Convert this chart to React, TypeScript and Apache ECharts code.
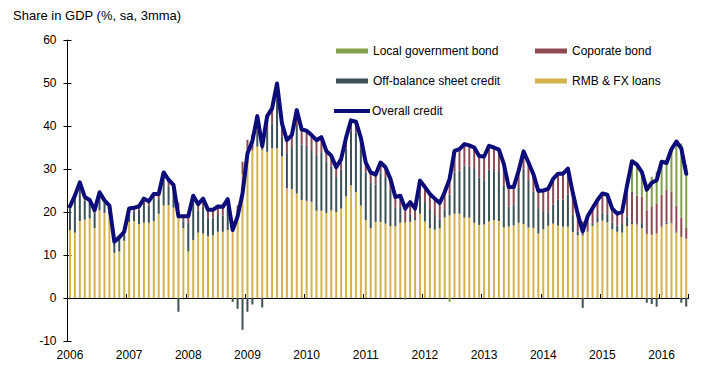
import React, { useEffect, useRef } from "react";
import * as echarts from "echarts";

const years = ["2006", "2007", "2008", "2009", "2010", "2011", "2012", "2013", "2014", "2015", "2016"];
const months = ["01", "02", "03", "04", "05", "06", "07", "08", "09", "10", "11", "12"];
const categories: string[] = [];
years.forEach((y) => months.forEach((m) => categories.push(`${y}-${m}`)));
categories.splice(126);

// Overall credit (line), % of GDP
const overallCredit = [
  21.3, 23.8, 26.9, 23.5, 22.8, 20.4, 24.6, 22.7, 21.5, 13.1, 14.1, 15.4,
  20.8, 21.0, 21.3, 23.1, 22.5, 24.2, 24.2, 29.2, 27.5, 26.3, 19.0, 19.0,
  19.0, 23.8, 21.8, 23.1, 20.5, 20.5, 21.3, 21.2, 23.0, 15.8, 19.0, 24.3,
  33.6, 36.5, 42.3, 35.3, 42.3, 44.1, 49.9, 40.6, 36.7, 37.9, 43.7, 39.2,
  38.9, 37.9, 36.7, 37.4, 34.2, 33.1, 30.4, 32.3, 37.3, 41.3, 41.0, 37.3,
  31.5, 29.2, 28.7, 31.5, 30.4, 27.7, 23.5, 23.8, 20.8, 22.3, 20.8, 27.3,
  25.8, 24.2, 23.1, 22.1, 24.6, 27.7, 34.2, 34.6, 35.8, 35.5, 35.0, 33.0,
  32.9, 35.4, 35.0, 34.5, 31.2, 25.8, 25.8, 29.6, 34.1, 31.5, 28.8, 24.9,
  25.0, 25.4, 27.7, 28.9, 28.9, 30.1, 24.4, 19.5, 15.5, 19.0, 20.9, 22.8,
  24.3, 24.0, 20.8, 19.6, 20.1, 26.2, 31.8, 31.0, 29.3, 25.2, 26.8, 27.4,
  31.7, 31.4, 34.6, 36.4, 34.8, 28.9,
];

const rmbFxLoans = [
  15.8, 15.2, 17.9, 18.2, 18.5, 16.3, 20.4, 19.8, 19.5, 10.5, 10.8, 13.3,
  17.7, 17.9, 17.2, 17.5, 17.5, 17.9, 19.6, 21.5, 21.6, 21.0, 21.0, 16.2,
  10.8, 13.5, 15.2, 15.0, 14.4, 14.6, 15.4, 15.4, 15.8, 15.5, 20.0, 28.8,
  34.5, 34.4, 35.2, 34.4, 34.0, 34.8, 34.8, 32.9, 25.5, 25.3, 24.3, 22.8,
  22.6, 22.4, 20.3, 20.3, 19.8, 20.4, 20.0, 20.8, 23.6, 26.2, 24.6, 21.5,
  18.1, 16.2, 17.7, 17.7, 17.3, 16.7, 16.7, 17.5, 17.5, 17.7, 18.1, 19.6,
  17.8, 16.2, 15.9, 16.2, 18.7, 19.2, 19.6, 19.6, 18.7, 18.7, 17.5, 17.0,
  17.1, 17.8, 18.1, 17.9, 16.4, 16.6, 16.9, 17.5, 17.2, 16.4, 16.3, 15.0,
  16.0, 16.8, 17.3, 16.8, 16.6, 16.6, 15.3, 14.6, 14.5, 15.4, 16.8, 17.6,
  18.0, 17.6, 16.0, 15.4, 15.2, 16.7, 17.2, 17.1, 16.2, 14.9, 14.7, 15.0,
  16.6, 17.2, 17.5, 15.2, 14.2, 13.8,
];

const offBalanceCredit = [
  5.0, 7.8, 8.0, 4.5, 3.7, 3.6, 3.4, 2.1, 1.2, 2.1, 2.8, 1.5,
  2.3, 2.3, 3.3, 4.6, 4.0, 5.3, 3.4, 6.5, 4.4, 3.8, -3.2, 1.6,
  6.7, 8.8, 5.1, 6.3, 4.3, 4.1, 3.9, 3.8, 5.2, -0.9, -2.5, -7.4,
  -3.2, -1.5, 3.6, -2.2, 4.8, 5.8, 11.6, 4.7, 8.2, 9.6, 15.9, 12.9,
  12.8, 12.0, 12.9, 13.6, 11.9, 10.2, 8.1, 9.0, 11.2, 12.6, 13.9, 13.3,
  11.1, 10.7, 8.7, 11.5, 10.8, 8.5, 4.3, 3.8, -0.3, 1.6, 0.5, 4.5,
  4.5, 4.5, 3.4, 2.1, 1.9, 4.9, 9.6, 10.0, 12.1, 11.8, 12.5, 11.0,
  10.3, 12.1, 11.4, 11.6, 9.8, 4.7, 4.9, 8.1, 12.9, 11.1, 8.5, 5.9,
  4.0, 3.1, 4.4, 6.1, 6.3, 7.5, 4.1, 0.9, -2.3, 0.1, 0.6, 1.2,
  1.9, 1.9, 1.5, 1.5, 2.2, 2.2, 0.5, 0.3, 1.2, -1.1, -1.4, -2.0,
  0.0, 0.3, 0.3, 0.3, -1.1, -2.0,
];

const corporateBond = [
  0.5, 0.8, 1.0, 0.8, 0.6, 0.5, 0.8, 0.8, 0.8, 0.5, 0.5, 0.6,
  0.8, 0.8, 0.8, 1.0, 1.0, 1.0, 1.2, 1.2, 1.5, 1.5, 1.2, 1.2,
  1.5, 1.5, 1.5, 1.8, 1.8, 1.8, 2.0, 2.0, 2.0, 1.2, 1.5, 2.9,
  2.3, 3.6, 3.5, 3.1, 3.5, 3.5, 3.5, 3.0, 3.0, 3.0, 3.5, 3.5,
  3.5, 3.5, 3.5, 3.5, 2.5, 2.5, 2.3, 2.5, 2.5, 2.5, 2.5, 2.5,
  2.3, 2.3, 2.3, 2.3, 2.3, 2.5, 2.5, 2.5, 3.6, 3.0, 2.2, 3.2,
  3.5, 3.5, 3.8, 3.8, 4.0, 4.5, 5.0, 5.0, 5.0, 5.0, 5.0, 5.0,
  5.5, 5.5, 5.5, 5.0, 5.0, 4.5, 4.0, 4.0, 4.0, 4.0, 4.0, 4.0,
  5.0, 5.5, 6.0, 6.0, 6.0, 6.0, 5.0, 4.0, 3.3, 3.5, 3.5, 4.0,
  4.4, 4.5, 3.3, 2.7, 2.7, 5.4, 7.0, 6.4, 6.2, 5.5, 6.6, 7.0,
  7.4, 7.6, 7.0, 6.0, 4.5, 2.5,
];

const localGovBond = [
  0, 0, 0, 0, 0, 0, 0, 0, 0, 0, 0, 0,
  0, 0, 0, 0, 0, 0, 0, 0, 0, 0, 0, 0,
  0, 0, 0, 0, 0, 0, 0, 0, 0, 0, 0, 0,
  0, 0, 0, 0, 0, 0, 0, 0, 0, 0, 0, 0,
  0, 0, 0, 0, 0, 0, 0, 0, 0, 0, 0, 0,
  0, 0, 0, 0, 0, 0, 0, 0, 0, 0, 0, 0,
  0, 0, 0, 0, 0, -0.9, 0, 0, 0, 0, 0, 0,
  0, 0, 0, 0, 0, 0, 0, 0, 0, 0, 0, 0,
  0, 0, 0, 0, 0, 0, 0, 0, 0, 0, 0, 0,
  0, 0, 0, 0, 0, 1.9, 7.1, 7.2, 5.7, 5.9, 6.9, 7.4,
  7.7, 6.3, 9.8, 14.9, 17.2, 14.6,
];

const FONT = "'Liberation Sans', Arial, sans-serif";
const C_RMB = "#D4B24C";
const C_OFF = "#3C5157";
const C_CORP = "#8E4A52";
const C_LGB = "#82A04C";
const C_LINE = "#0C0C7A";

const isJan = (i: number) => i % 12 === 0;

export default function App() {
  const ref = useRef<HTMLDivElement>(null);

  useEffect(() => {
    if (!ref.current) return;
    const chart = echarts.init(ref.current, null, { renderer: "svg" });
    const legendBase = {
      orient: "horizontal" as const,
      padding: 0,
      itemWidth: 32,
      itemHeight: 5,
      icon: "rect",
      selectedMode: false,
      textStyle: { fontSize: 12, color: "#000", fontFamily: FONT },
    };
    chart.setOption({
      animation: false,
      backgroundColor: "#fff",
      textStyle: { fontFamily: FONT },
      title: {
        text: "Share in GDP (%, sa, 3mma)",
        left: 13,
        top: 9,
        padding: 0,
        textStyle: { fontSize: 13, fontWeight: "normal", color: "#000", fontFamily: FONT },
      },
      legend: [
        { ...legendBase, data: ["Local government bond"], left: 336, top: 45 },
        { ...legendBase, data: ["Coporate bond"], left: 535, top: 45 },
        { ...legendBase, data: ["Off-balance sheet credit"], left: 336, top: 75 },
        { ...legendBase, data: ["RMB & FX loans"], left: 535, top: 75 },
        {
          ...legendBase,
          data: ["Overall credit"],
          icon: "rect",
          left: 334,
          top: 105,
          itemWidth: 36,
          itemHeight: 4,
          itemStyle: { color: C_LINE, borderWidth: 0 },
          lineStyle: { width: 0 },
          textStyle: { ...legendBase.textStyle, padding: [0, 0, 0, -3] },
        },
      ],
      grid: { left: 67.5, right: 38.3, top: 40, bottom: 39, containLabel: false },
      xAxis: [
        {
          type: "category",
          data: categories,
          position: "bottom",
          boundaryGap: true,
          axisLine: { show: false, onZero: false },
          axisTick: { show: false },
          axisLabel: {
            interval: (i: number) => isJan(i),
            formatter: (v: string) => v.slice(0, 4),
            margin: 8,
            fontSize: 12,
            color: "#000",
            fontFamily: FONT,
          },
          splitLine: { show: false },
        },
        {
          type: "category",
          data: categories,
          position: "bottom",
          boundaryGap: true,
          axisLine: { show: true, onZero: true, lineStyle: { color: "#000", width: 1 } },
          axisTick: {
            show: true,
            inside: true,
            length: 4,
            interval: (i: number) => isJan(i),
            lineStyle: { color: "#000" },
          },
          axisLabel: { show: false },
          splitLine: { show: false },
        },
      ],
      yAxis: [
        {
          type: "value",
          min: -10,
          max: 60,
          interval: 10,
          axisLine: { show: true, lineStyle: { color: "#000", width: 1 } },
          axisTick: { show: true, inside: false, length: 4, lineStyle: { color: "#000" } },
          axisLabel: { margin: 11, fontSize: 12, color: "#000", fontFamily: FONT },
          splitLine: { show: false },
        },
        {
          type: "value",
          min: -10,
          max: 60,
          interval: 10,
          position: "left",
          axisLine: { show: false },
          axisTick: { show: true, inside: true, length: 4, lineStyle: { color: "#000" } },
          axisLabel: { show: false },
          splitLine: { show: false },
        },
      ],
      series: [
        {
          name: "RMB & FX loans",
          type: "bar",
          stack: "credit",
          barWidth: 2,
          data: rmbFxLoans,
          itemStyle: { color: C_RMB },
        },
        {
          name: "Off-balance sheet credit",
          type: "bar",
          stack: "credit",
          barWidth: 2,
          data: offBalanceCredit,
          itemStyle: { color: C_OFF },
        },
        {
          name: "Coporate bond",
          type: "bar",
          stack: "credit",
          barWidth: 2,
          data: corporateBond,
          itemStyle: { color: C_CORP },
        },
        {
          name: "Local government bond",
          type: "bar",
          stack: "credit",
          barWidth: 2,
          data: localGovBond,
          itemStyle: { color: C_LGB },
        },
        {
          name: "Overall credit",
          type: "line",
          data: overallCredit,
          symbol: "none",
          z: 5,
          lineStyle: { color: C_LINE, width: 4, cap: "round", join: "round" },
          itemStyle: { color: C_LINE },
        },
      ],
    });
    return () => chart.dispose();
  }, []);

  return (
    <div
      ref={ref}
      style={{ position: "fixed", left: 0, top: 0, width: 727, height: 380, background: "#fff" }}
    />
  );
}
